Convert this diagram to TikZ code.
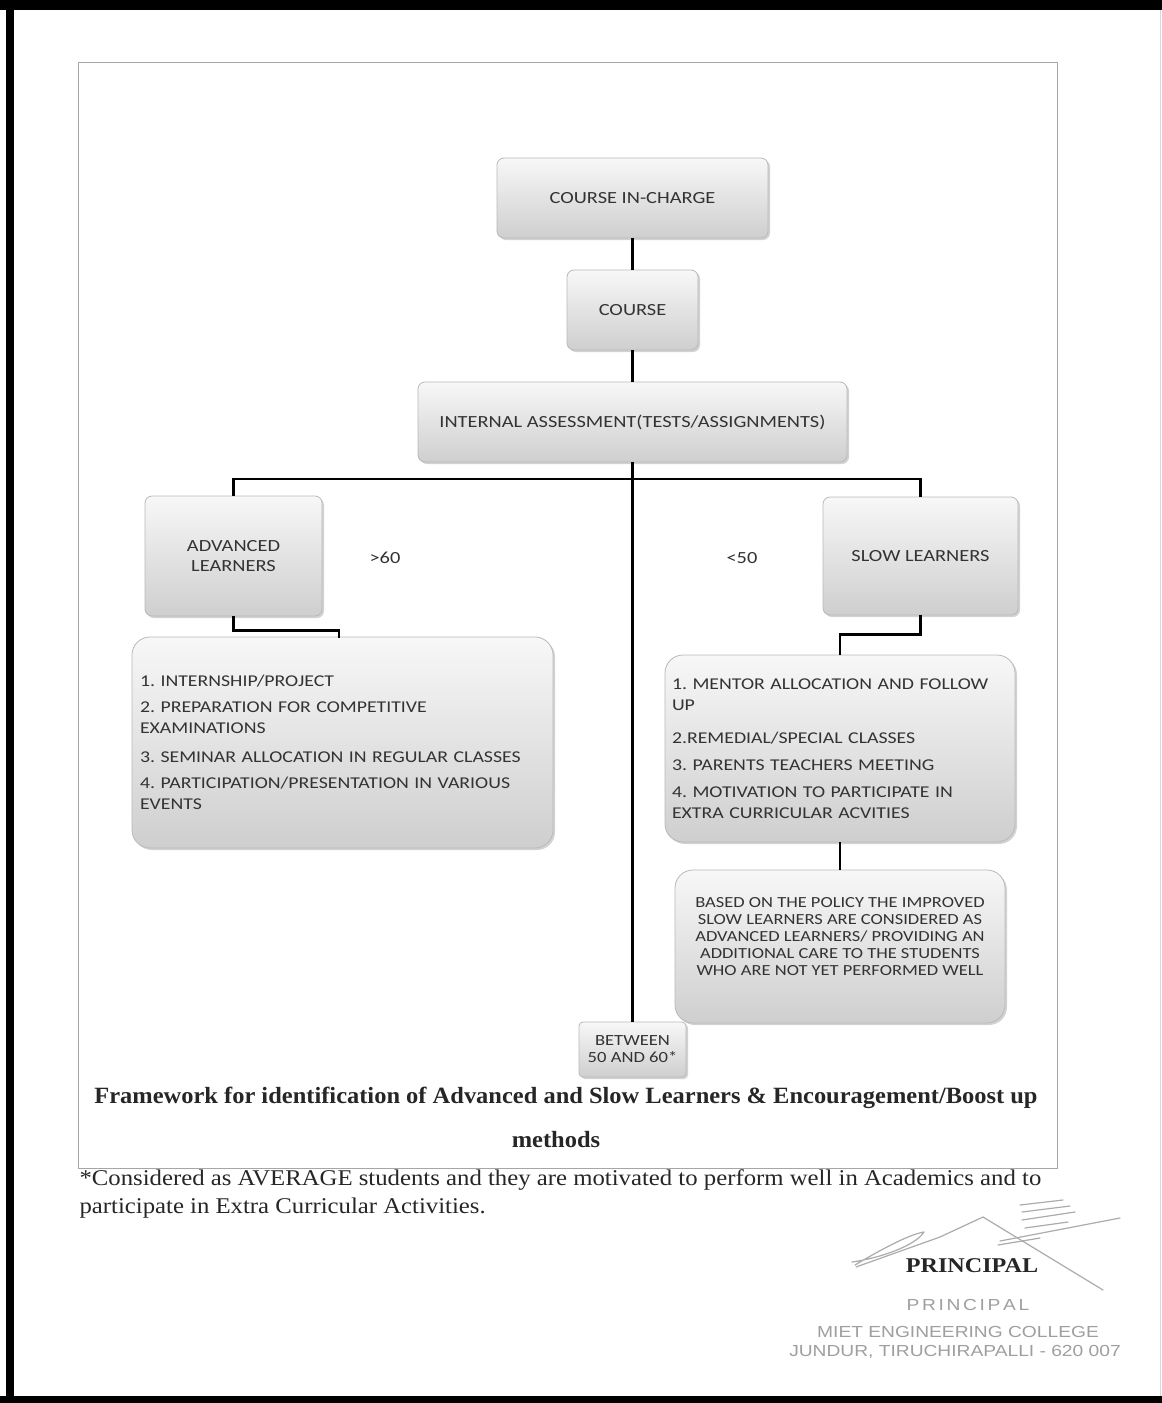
\documentclass[tikz,border=0pt]{standalone}
\usepackage{fontspec}
\setmainfont{Liberation Serif}
\newfontfamily\boxfont[FakeStretch=1.2]{Carlito}
\newfontfamily\stampfont[FakeStretch=1.2]{Liberation Sans}
\newfontfamily\captionfont[FakeStretch=1.05]{Liberation Serif}
\newfontfamily\footfont[FakeStretch=1.1]{Liberation Serif}
\newfontfamily\princfont[FakeStretch=1.15]{Liberation Serif}
\usetikzlibrary{shadows}
\tikzset{
  boxbase/.style={draw=gray!55, line width=0.8pt, top color=gray!6, bottom color=gray!38,
    drop shadow={opacity=0.35, shadow xshift=2pt, shadow yshift=-2pt},
    text=black!80, inner sep=0pt},
  smallbox/.style={boxbase, rounded corners=7pt, align=center, font=\boxfont\fontsize{17}{20}\selectfont},
  listbox/.style={boxbase, rounded corners=18pt, align=left, font=\frenchspacing\boxfont\fontsize{16.5}{21}\selectfont},
  conn/.style={draw=black, line width=2.6pt},
  lbl/.style={font=\boxfont\fontsize{17}{20}\selectfont, text=black!80},
  captext/.style={font=\captionfont\bfseries\fontsize{23.3}{26}\selectfont, text=black!85},
  foot/.style={font=\footfont\fontsize{22.5}{26}\selectfont, text=black!85, anchor=west},
  stamp/.style={font=\stampfont\fontsize{16}{18}\selectfont, text=gray!75},
  sig/.style={draw=gray!65, line width=1.2pt, line cap=round, line join=round}
}
\begin{document}
\begin{tikzpicture}[x=1pt,y=-1pt]
\useasboundingbox (0,0) rectangle (1162,1403);
\fill[white] (0,0) rectangle (1162,1403);
% outer scan border
\fill[black] (0,0) rectangle (1162,10);
\fill[black] (6,0) rectangle (14,1403);
\fill[black] (0,1396) rectangle (1162,1403);
\draw[gray!30, line width=0.8pt] (1160,10) -- (1160,1396);
% inner frame
\draw[gray!70, line width=1pt] (78,62) rectangle (1057,1168);

% boxes
\node[smallbox, minimum width=271pt, minimum height=80pt] (cic) at (632.5,198) {COURSE IN-CHARGE};
\node[smallbox, minimum width=131pt, minimum height=80pt] (course) at (632.5,310) {COURSE};
\node[smallbox, minimum width=429pt, minimum height=80pt] (ia) at (632.5,422) {INTERNAL ASSESSMENT(TESTS/ASSIGNMENTS)};
\node[smallbox, minimum width=177pt, minimum height=120pt] (adv) at (233.5,556) {ADVANCED\\LEARNERS};
\node[smallbox, minimum width=195pt, minimum height=118pt] (slow) at (920.5,556) {SLOW LEARNERS};
\node[listbox, text width=405pt, inner xsep=8pt, minimum height=211pt] (advlist) at (342.5,742.5)
  {1. INTERNSHIP/PROJECT\\[5pt]
   2. PREPARATION FOR COMPETITIVE\\EXAMINATIONS\\[8pt]
   3. SEMINAR ALLOCATION IN REGULAR CLASSES\\[5pt]
   4. PARTICIPATION/PRESENTATION IN VARIOUS\\EVENTS};
\node[listbox, text width=336pt, inner xsep=7pt, minimum height=187pt] (slowlist) at (840,748.5)
  {1. MENTOR ALLOCATION AND FOLLOW\\UP\\[12pt]
   2.REMEDIAL/SPECIAL CLASSES\\[6pt]
   3. PARENTS TEACHERS MEETING\\[6pt]
   4. MOTIVATION TO PARTICIPATE IN\\EXTRA CURRICULAR ACVITIES\\[6pt]};
\node[listbox, align=center, font=\boxfont\fontsize{15.4}{17}\selectfont, minimum width=330pt, minimum height=153pt] (policy) at (840,946.5)
  {BASED ON THE POLICY THE IMPROVED\\SLOW LEARNERS ARE CONSIDERED AS\\ADVANCED LEARNERS/ PROVIDING AN\\ADDITIONAL CARE TO THE STUDENTS\\WHO ARE NOT YET PERFORMED WELL\\[4pt]};
\node[smallbox, rounded corners=4pt, font=\boxfont\fontsize{15.5}{17}\selectfont, minimum width=107pt, minimum height=55pt] (between) at (632.5,1049.5) {BETWEEN\\50 AND 60*};

% labels
\node[lbl] (gt) at (385,558) {>60};
\node[lbl] (lt) at (742,558) {<50};

% connectors
\draw[conn] (cic.south) -- (course.north);
\draw[conn] (course.south) -- (ia.north);
\draw[conn] (ia.south) -- (between.north);
\coordinate (jl) at (233.5,479);
\coordinate (jr) at (920.5,479);
\draw[conn] (adv.north) -- (jl) -- (jr) -- (slow.north);
\coordinate (advin) at (339,637.5);
\draw[conn] (adv.south) -- ++(0,14) -| (advin);
\draw[conn] (slow.south) -- ++(0,19) -| (slowlist.north);
\draw[conn] (slowlist.south) -- (policy.north);

% caption
\node[captext] (caption1) at (566,1098) {Framework for identification of Advanced and Slow Learners \& Encouragement/Boost up};
\node[captext] (caption2) at (556,1140) {methods};

% footnote
\node[foot] (foot1) at (76,1180) {*Considered as AVERAGE students and they are motivated to perform well in Academics and to};
\node[foot] (foot2) at (76,1208) {participate in Extra Curricular Activities.};

% signature
\draw[sig] (855,1265) .. controls (880,1250) and (910,1234) .. (924,1232) .. controls (915,1246) and (880,1258) .. (852,1262);
\draw[sig] (856,1267) -- (940,1237) -- (983,1217) -- (1103,1290);
\draw[sig] (1000,1241) -- (1120,1218);
\draw[sig] (1020,1205) -- (1063,1200);
\draw[sig] (1022,1212) -- (1070,1206);
\draw[sig] (1022,1220) -- (1075,1212);
\draw[sig] (1025,1228) -- (1068,1222);
\draw[sig] (998,1245) -- (1040,1238);
\node[font=\princfont\bfseries\fontsize{21}{24}\selectfont, text=black!85] (principal) at (972,1266) {PRINCIPAL};
\node[stamp, font=\stampfont\fontsize{16}{18}\selectfont] (st1) at (968,1305) {P\,R\,I\,N\,C\,I\,P\,A\,L};
\node[stamp] (st2) at (958,1332) {MIET ENGINEERING COLLEGE};
\node[stamp] (st3) at (955,1352) {JUNDUR, TIRUCHIRAPALLI - 620 007};
\end{tikzpicture}
\end{document}
